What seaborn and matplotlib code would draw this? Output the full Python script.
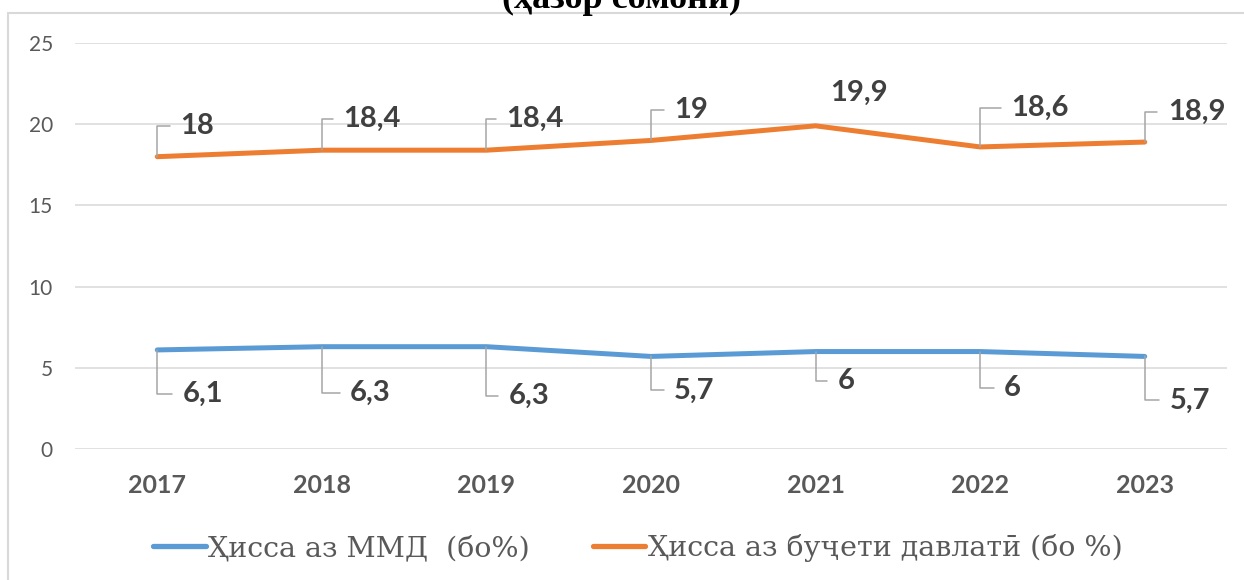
import matplotlib
matplotlib.use("Agg")
import matplotlib.pyplot as plt
import seaborn as sns
import pandas as pd
from matplotlib.patches import Rectangle

# ---- data ----
years = ["2017", "2018", "2019", "2020", "2021", "2022", "2023"]
gdp_share = [6.1, 6.3, 6.3, 5.7, 6.0, 6.0, 5.7]
budget_share = [18.0, 18.4, 18.4, 19.0, 19.9, 18.6, 18.9]
gdp_labels = ["6,1", "6,3", "6,3", "5,7", "6", "6", "5,7"]
budget_labels = ["18", "18,4", "18,4", "19", "19,9", "18,6", "18,9"]
series_names = ["Ҳисса аз ММД  (бо%)", "Ҳисса аз буҷети давлатӣ (бо %)"]
title_text = "(ҳазор сомонӣ)"
yticks = [0, 5, 10, 15, 20, 25]

# ---- layout (label offsets in image pixels: right, up) ----
budget_off = [(23, 31), (21, 31), (20, 31), (23, 30), (15, 33), (31, 39), (23, 30)]
budget_leader = [True, True, True, True, False, True, True]
gdp_off = [(25, -44), (28, -46), (22, -49), (23, -34), (22, -29), (24, -36), (25, -44)]

sns.set_theme(style="white")
plt.rcParams["font.family"] = ["Lato", "DejaVu Sans"]

df = pd.DataFrame({
    "year": years * 2,
    "value": gdp_share + budget_share,
    "series": [series_names[0]] * len(years) + [series_names[1]] * len(years),
})

fig = plt.figure(figsize=(12.44, 5.8), dpi=100)
ax = fig.add_axes([75 / 1244, 1 - 449 / 580, (1227 - 75) / 1244, (449 - 43) / 580])

palette = {series_names[0]: "#5B9BD5", series_names[1]: "#ED7D31"}
sns.lineplot(data=df, x="year", y="value", hue="series", palette=palette,
             linewidth=3.6, ax=ax, sort=False, legend=True,
             solid_capstyle="round", solid_joinstyle="round")

ax.set_xlim(-0.5, len(years) - 0.5)
ax.set_ylim(0, 25)
ax.set_yticks(yticks)
ax.set_yticklabels([str(t) for t in yticks])
ax.yaxis.grid(True, color="#d9d9d9", linewidth=1.1)
ax.xaxis.grid(False)
ax.set_axisbelow(True)
for s in ax.spines.values():
    s.set_visible(False)
ax.set_xlabel("")
ax.set_ylabel("")
ax.tick_params(axis="y", length=0, pad=16, labelsize=15, labelcolor="#595959")
ax.tick_params(axis="x", length=0, pad=18, labelsize=18, labelcolor="#595959")
for lab in ax.get_xticklabels():
    lab.set_fontweight("bold")

lead = dict(arrowstyle="-", color="#a6a6a6", linewidth=1.1,
            connectionstyle="angle,angleA=0,angleB=90,rad=0",
            shrinkA=5, shrinkB=0, relpos=(0, 0.5))

for i in range(len(years)):
    ap = dict(lead) if budget_leader[i] else None
    ax.annotate(budget_labels[i], xy=(i, budget_share[i]), xytext=budget_off[i],
                textcoords="offset pixels", ha="left", va="center",
                fontsize=21, fontweight="bold", color="#404040",
                arrowprops=ap)
    ax.annotate(gdp_labels[i], xy=(i, gdp_share[i]), xytext=gdp_off[i],
                textcoords="offset pixels", ha="left", va="center",
                fontsize=21, fontweight="bold", color="#404040",
                arrowprops=dict(lead))

handles, labels = ax.get_legend_handles_labels()
ax.get_legend().remove()
leg = fig.legend(handles, labels, loc="center", bbox_to_anchor=(638 / 1244, 1 - 548 / 580),
                 ncol=2, frameon=False, handlelength=1.85, handletextpad=0.1,
                 columnspacing=2.2,
                 prop={"family": "DejaVu Serif", "size": 20.5})
for t in leg.get_texts():
    t.set_color("#595959")
for h in leg.get_lines():
    h.set_linewidth(3.8)
    h.set_solid_capstyle("round")

fig.text(0.5, 1 - 8 / 580, title_text, ha="center", va="baseline",
         fontsize=26, fontweight="bold", family="Liberation Serif", color="black")

fig.patches.append(Rectangle((8 / 1244, -0.1), 1.2, 1.1 - 13 / 580,
                             transform=fig.transFigure, fill=False,
                             edgecolor="#d9d9d9", linewidth=1.5))

fig.savefig("out.png", dpi=100)
